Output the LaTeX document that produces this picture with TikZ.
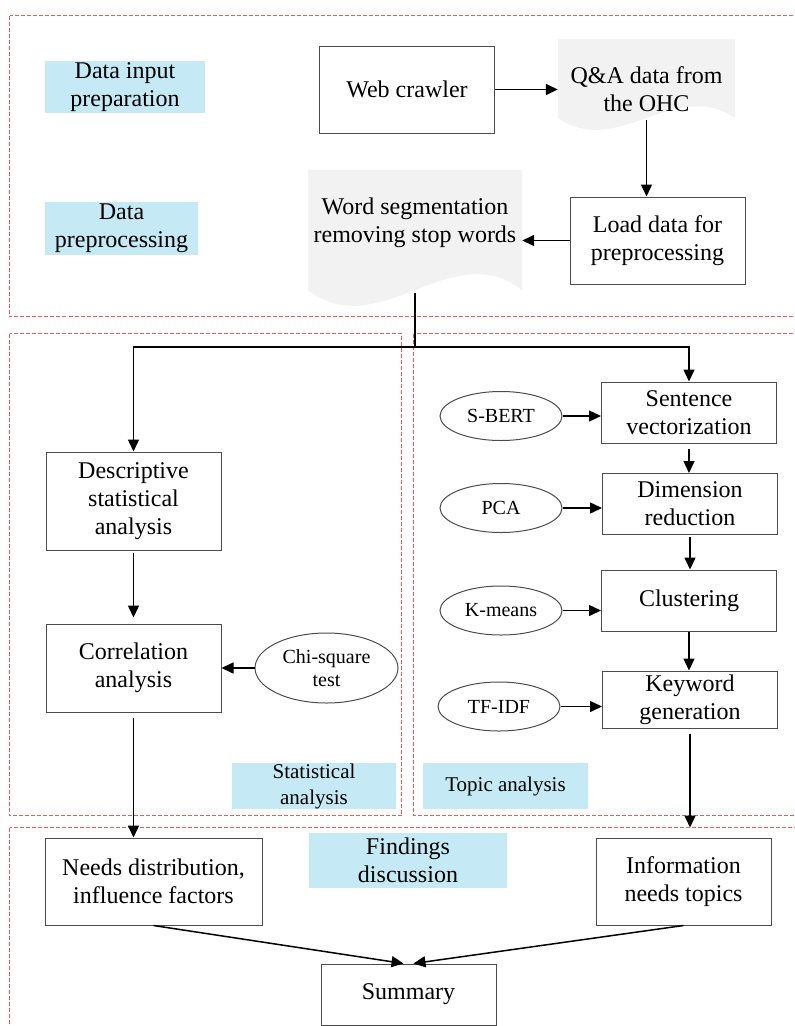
\documentclass[tikz,border=0pt]{standalone}
\usepackage{fontspec}
\setmainfont{Liberation Serif}
\usetikzlibrary{arrows.meta,shapes.geometric}

\definecolor{labelblue}{RGB}{197,234,245}
\definecolor{docgray}{RGB}{242,242,242}
\definecolor{framered}{RGB}{236,92,92}

\begin{document}
\begin{tikzpicture}[x=1pt,y=-1pt,
    every node/.style={font=\fontsize{24}{28}\selectfont, align=center},
    procbox/.style={draw=black!70, line width=1pt, minimum width=175, minimum height=61, inner sep=0},
    method/.style={ellipse, draw=black!70, line width=1pt, minimum width=122, minimum height=49, inner sep=0, font=\fontsize{20}{23}\selectfont},
    doc/.style={inner sep=0},
    phase/.style={fill=labelblue, inner sep=0},
    frame/.style={draw=framered, line width=1.2pt, dash pattern=on 4pt off 2pt},
    arr/.style={draw, line width=1.5pt, -{Triangle[length=12pt,width=11pt]}}]
    \useasboundingbox (0,0) rectangle (795,1026);
    \clip (0,0) rectangle (795,1026);
    \draw[frame] (9.5,15.5) rectangle (805,316.5);
    \draw[frame] (9.5,333.5) rectangle (401.5,815.5);
    \draw[frame] (413.5,333.5) rectangle (805,815.5);
    \draw[frame] (9.5,827.5) rectangle (805,1035);
    \fill[docgray] (558,39) -- (735,39) -- (735,118) .. controls (676,77) and (617,159) .. (558,118) -- cycle;
    \fill[docgray] (308,170) -- (522,170) -- (522,290) .. controls (451,235) and (379,345) .. (308,290) -- cycle;
    \node[phase, minimum width=160, minimum height=52] (inputlab) at (125,87) {Data input\\preparation};
    \node[phase, minimum width=153, minimum height=53] (prelab) at (121.5,228.5) {Data\\preprocessing};
    \node[procbox, minimum height=87] (crawler) at (407,89.5) {Web crawler};
    \node[doc, minimum width=177, minimum height=62] (qadata) at (646.5,89) {Q\&A data from\\the OHC};
    \node[procbox, minimum height=87] (loaddata) at (657.5,240.5) {Load data for\\preprocessing};
    \node[doc, minimum width=214, minimum height=141] (wordseg) at (415,222.5) {Word segmentation\\removing stop words};
    \node[procbox, minimum height=98] (descr) at (133.5,501) {Descriptive\\statistical\\analysis};
    \node[procbox, minimum height=88] (correl) at (133.5,668) {Correlation\\analysis};
    \node[method, minimum width=143, minimum height=70] (chisq) at (326.5,668) {Chi-square\\test};
    \node[procbox] (sentvec) at (689,412.5) {Sentence\\vectorization};
    \node[procbox] (dimred) at (690,504) {Dimension\\reduction};
    \node[procbox] (cluster) at (689,600.5) {Clustering};
    \node[procbox, minimum height=57] (keygen) at (690,699.5) {Keyword\\generation};
    \node[method] (sbert) at (501,416) {S-BERT};
    \node[method] (pca) at (501,508) {PCA};
    \node[method] (kmeans) at (501,610.5) {K-means};
    \node[method] (tfidf) at (499,706.5) {TF-IDF};
    \node[phase, minimum width=164, minimum height=46, font=\fontsize{21}{26}\selectfont] (statlab) at (314,786) {Statistical\\analysis};
    \node[phase, minimum width=165, minimum height=46, font=\fontsize{21}{26}\selectfont] (topiclab) at (505.5,786) {Topic analysis};
    \node[phase, minimum width=198, minimum height=55] (findlab) at (408,860.5) {Findings\\discussion};
    \node[procbox, minimum width=217, minimum height=87] (needs) at (153.5,881.5) {Needs distribution,\\influence factors};
    \node[procbox, minimum height=87] (infotop) at (683.5,881.5) {Information\\needs topics};
    \node[procbox] (summary) at (408.5,994.5) {Summary};
    \coordinate (split) at (415,347);
    \draw[arr] (crawler.east) -- (crawler.east -| qadata.west);
    \draw[arr] (qadata.south) -- (qadata.south |- loaddata.north);
    \draw[arr] (loaddata.west) -- (loaddata.west -| wordseg.east);
    \draw[line width=1.5pt] (wordseg.south) -- (split);
    \draw[arr] (split) -| (descr.north);
    \draw[arr] (split) -| (sentvec.north);
    \draw[arr, shorten <=2pt, shorten >=6pt] (descr.south) -- (correl.north);
    \draw[arr] (chisq.west) -- (correl.east);
    \draw[arr] (sbert.east) -- (sbert.east -| sentvec.west);
    \draw[arr] (pca.east) -- (pca.east -| dimred.west);
    \draw[arr] (kmeans.east) -- (kmeans.east -| cluster.west);
    \draw[arr] (tfidf.east) -- (tfidf.east -| keygen.west);
    \draw[arr, shorten <=5pt] (sentvec.south) -- (sentvec.south |- dimred.north);
    \draw[arr, shorten <=2pt] (dimred.south) -- (dimred.south |- cluster.north);
    \draw[arr] (cluster.south) -- (cluster.south |- keygen.north);
    \draw[arr, shorten <=5pt] (correl.south) -- (correl.south |- needs.north);
    \draw[arr, shorten <=5pt, shorten >=10pt] (keygen.south) -- (keygen.south |- infotop.north);
    \draw[arr] (needs.south) -- ([xshift=-5pt]summary.north);
    \draw[arr] (infotop.south) -- ([xshift=5pt]summary.north);
\end{tikzpicture}
\end{document}
